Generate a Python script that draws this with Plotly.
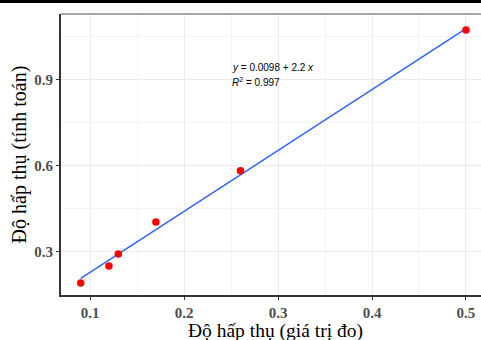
import plotly.graph_objects as go

# measured vs calculated absorbance
x_measured = [0.09, 0.12, 0.13, 0.17, 0.26, 0.50]
y_calc = [0.192, 0.251, 0.293, 0.405, 0.583, 1.074]

# fitted regression line endpoints
fit_x = [0.09, 0.50]
fit_y = [0.208, 1.079]

eq_text = "<i>y</i> = 0.0098 + 2.2 <i>x</i>"
r2_text = "<i>R</i><sup>2</sup> = 0.997"

x_title = "Độ hấp thụ (giá trị đo)"
y_title = "Độ hấp thụ (tính toán)"

fig = go.Figure()
fig.add_trace(go.Scatter(x=fit_x, y=fit_y, mode="lines",
                         line=dict(color="#3366FF", width=1.6), hoverinfo="skip"))
fig.add_trace(go.Scatter(x=x_measured, y=y_calc, mode="markers",
                         marker=dict(color="#FF0000", size=7.5)))

tickfont = dict(family="Liberation Serif", size=15, color="#4d4d4d")

fig.update_layout(
    width=481, height=340,
    margin=dict(l=61, r=0, t=14, b=45),
    paper_bgcolor="white", plot_bgcolor="white",
    showlegend=False,
    xaxis=dict(
        range=[0.069, 0.516], tickvals=[0.1, 0.2, 0.3, 0.4, 0.5],
        ticktext=["<b>0.1</b>", "<b>0.2</b>", "<b>0.3</b>", "<b>0.4</b>", "<b>0.5</b>"],
        tickfont=tickfont, showgrid=True, gridcolor="#ebebeb", gridwidth=1.2,
        minor=dict(tickvals=[0.15, 0.25, 0.35, 0.45], showgrid=True,
                   gridcolor="#f4f4f4", gridwidth=1, ticks=""),
        showline=True, linecolor="#333333", linewidth=2,
        ticks="outside", ticklen=3, tickcolor="#333333", tickwidth=1,
        zeroline=False,
    ),
    yaxis=dict(
        range=[0.15, 1.13], tickvals=[0.3, 0.6, 0.9],
        ticktext=["<b>0.3</b>", "<b>0.6</b>", "<b>0.9</b>"],
        tickfont=tickfont, showgrid=True, gridcolor="#ebebeb", gridwidth=1.2,
        minor=dict(tickvals=[0.45, 0.75, 1.05], showgrid=True,
                   gridcolor="#f4f4f4", gridwidth=1, ticks=""),
        showline=True, linecolor="#333333", linewidth=2,
        ticks="outside", ticklen=3, tickcolor="#333333", tickwidth=1,
        zeroline=False,
        title=dict(text=y_title, font=dict(family="Liberation Serif", size=20, color="black"),
                   standoff=2),
    ),
    annotations=[
        dict(x=0.249, y=0.945, xref="x", yref="y", text=eq_text, showarrow=False,
             xanchor="left", yanchor="middle",
             font=dict(family="Liberation Sans", size=10, color="black")),
        dict(x=0.249, y=0.893, xref="x", yref="y", text=r2_text, showarrow=False,
             xanchor="left", yanchor="middle",
             font=dict(family="Liberation Sans", size=10, color="black")),
        dict(x=(275 - 61) / 420, y=-(331 - 295) / 281, xref="paper", yref="paper",
             text=x_title, showarrow=False, xanchor="center", yanchor="middle",
             font=dict(family="Liberation Serif", size=19.5, color="black")),
    ],
    shapes=[
        dict(type="line", xref="paper", yref="paper", x0=0, x1=1, y0=1, y1=1,
             line=dict(color="#888888", width=1.5)),
        dict(type="rect", xref="paper", yref="paper", x0=-61/420, x1=1,
             y0=1 + 11/281, y1=1 + 14/281, fillcolor="black",
             line=dict(width=0)),
    ],
)

fig.write_html("out.html", config={"displayModeBar": False},
               post_script="document.body.style.margin='0';document.body.style.overflow='hidden';")
